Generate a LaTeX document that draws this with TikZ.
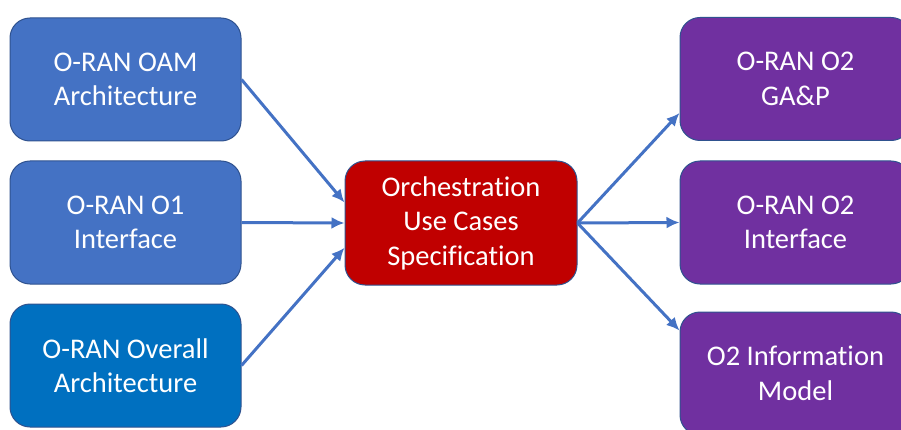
\documentclass[tikz,border=0pt]{standalone}
\usepackage{fontspec}
\setmainfont{Carlito}[Ligatures=NoCommon]
\usetikzlibrary{arrows.meta}
\definecolor{oamblue}{RGB}{68, 114, 196}
\definecolor{allblue}{RGB}{0, 112, 192}
\definecolor{orchred}{RGB}{192, 0, 0}
\definecolor{otwopurple}{RGB}{112, 48, 160}
\definecolor{edgeblue}{RGB}{47, 82, 143}

\begin{document}
\begin{tikzpicture}[x=1pt,y=1pt,
	box/.style={draw=edgeblue,line width=1pt,rounded corners=20pt,minimum width=231pt,minimum height=123pt,
		align=center,text=white,font=\fontsize{28.5}{34.5}\selectfont},
	link/.style={draw=oamblue,line width=3pt,-{Latex[length=13pt,width=12pt]}}]
			\useasboundingbox (0,0) rectangle (901,429);
			\clip (0,0) rectangle (901,429); % la boite de droite est coupee
			% entrees
			\node[box,fill=oamblue] (oam) at (125.5,349.5) {O-RAN OAM\\Architecture};
			\node[box,fill=oamblue] (oone) at (125.5,206.5) {O-RAN O1\\Interface};
			\node[box,fill=allblue] (overall) at (125.5,63.5) {O-RAN Overall\\Architecture};
			% le centre
			\node[box,fill=orchred,minimum width=232pt,minimum height=124pt] (orch) at (461,206) {Orchestration\\Use Cases\\Specification};
			% sorties
			\node[box,fill=otwopurple] (gap) at (795.5,350) {O-RAN O2\\GA\&P};
			\node[box,fill=otwopurple] (otwo) at (795.5,206.5) {O-RAN O2\\Interface};
			\node[box,fill=otwopurple] (infomodel) at (795.5,55.5) {O2 Information\\Model};
			\draw[link] (oam.east) -- (orch.170);
			\draw[link] (oone.east) -- (orch.west);
			\draw[link] (overall.east) -- (orch.192);
			\draw[link] (orch.east) -- ([yshift=-34pt]gap.west);
			\draw[link] (orch.east) -- (otwo.west);
			\draw[link] (orch.east) -- ([yshift=43pt]infomodel.west);
			\end{tikzpicture}
\end{document}
